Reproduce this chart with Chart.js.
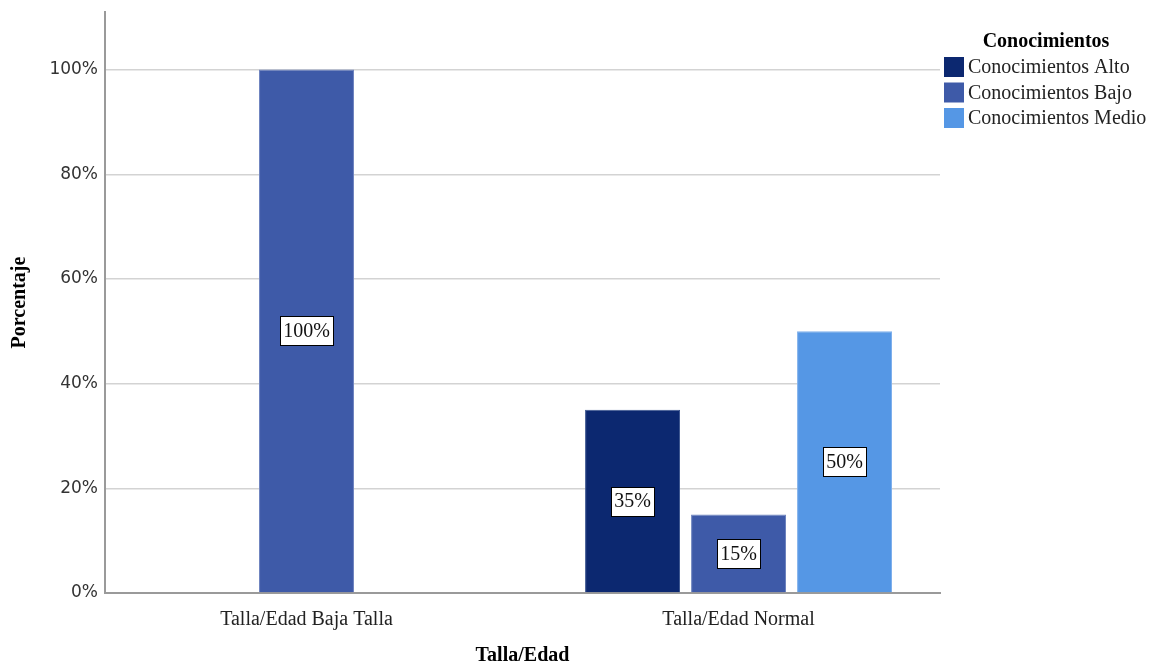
<!DOCTYPE html>
<html>
<head>
<meta charset="utf-8">
<script src="https://cdn.jsdelivr.net/npm/chart.js@4"></script>
<style>
  html, body { margin: 0; padding: 0; background: #fff; }
  #wrap { width: 1158px; height: 662px; }
</style>
</head>
<body>
<div id="wrap"><canvas id="chart"></canvas></div>
<script>
// datos
const categorias = ['Talla/Edad Baja Talla', 'Talla/Edad Normal'];
const alto = [null, 35];
const bajo = [100, 15];
const medio = [null, 50];
const yTicks = [0, 20, 40, 60, 80, 100];

const serif = '"Liberation Serif", "Times New Roman", serif';
const sans = '"DejaVu Sans", Tahoma, sans-serif';

// etiquetas blancas con borde dentro de cada barra
const etiquetas = {
  id: 'etiquetas',
  afterDatasetsDraw(chart) {
    const ctx = chart.ctx;
    ctx.save();
    ctx.font = '20px ' + serif;
    ctx.textAlign = 'center';
    ctx.textBaseline = 'middle';
    chart.data.datasets.forEach((ds, i) => {
      chart.getDatasetMeta(i).data.forEach((bar, j) => {
        const v = ds.data[j];
        if (v == null) return;
        const txt = v + '%';
        const cy = (bar.y + bar.base) / 2;
        const w = Math.round(ctx.measureText(txt).width + 6);
        const h = 29;
        const x0 = Math.round(bar.x - w / 2);
        const y0 = Math.round(cy - h / 2);
        ctx.fillStyle = '#fff';
        ctx.fillRect(x0, y0, w, h);
        ctx.strokeStyle = '#000';
        ctx.lineWidth = 1;
        ctx.strokeRect(x0 + 0.5, y0 + 0.5, w, h);
        ctx.fillStyle = '#111';
        ctx.fillText(txt, bar.x, cy + 1);
      });
    });
    ctx.restore();
  }
};

// leyenda a la derecha
const leyenda = {
  id: 'leyenda',
  afterDraw(chart) {
    const ctx = chart.ctx;
    ctx.save();
    ctx.fillStyle = '#000';
    ctx.font = 'bold 20px ' + serif;
    ctx.textAlign = 'center';
    ctx.textBaseline = 'middle';
    ctx.fillText('Conocimientos', 1046, 42);
    ctx.font = '20px ' + serif;
    ctx.textAlign = 'left';
    chart.data.datasets.forEach((ds, i) => {
      const y = 67 + i * 25.5;
      ctx.fillStyle = ds.backgroundColor;
      ctx.fillRect(944, y - 10, 20, 20);
      ctx.fillStyle = '#222';
      ctx.fillText(ds.label, 968, y + 1);
    });
    ctx.restore();
  }
};

new Chart(document.getElementById('chart'), {
  type: 'bar',
  data: {
    labels: categorias,
    datasets: [
      { label: 'Conocimientos Alto', data: alto, backgroundColor: '#0c2870', borderColor: '#3a548f', borderWidth: 1 },
      { label: 'Conocimientos Bajo', data: bajo, backgroundColor: '#3e5aa8', borderColor: '#6e84bf', borderWidth: 1 },
      { label: 'Conocimientos Medio', data: medio, backgroundColor: '#5597e5', borderColor: '#7fb0ec', borderWidth: 1 }
    ]
  },
  options: {
    responsive: true,
    maintainAspectRatio: false,
    animation: false,
    layout: { padding: { top: 12, right: 218, left: 0, bottom: 0 } },
    datasets: { bar: { categoryPercentage: 0.736, barPercentage: 0.896, skipNull: false } },
    plugins: { legend: { display: false }, tooltip: { enabled: false } },
    scales: {
      x: {
        afterBuildTicks(scale) {
          // centros de categoria como en la figura
          scale._startValue = -0.4664;
          scale._valueRange = 1.9327;
        },
        afterFit(scale) { scale.height = 69; },
        grid: { display: false },
        border: { display: true, color: '#9a9a9a', width: 2 },
        ticks: { color: '#222', font: { family: serif, size: 20 }, padding: 7 },
        title: { display: true, text: 'Talla/Edad', color: '#000', font: { family: serif, size: 20, weight: 'bold', lineHeight: 1 }, padding: { top: 0, bottom: -4 } }
      },
      y: {
        min: 0,
        max: 111,
        afterBuildTicks(scale) {
          scale.ticks = yTicks.map(v => ({ value: v }));
        },
        afterFit(scale) {
          scale.width = 105;
          scale.paddingTop = 0;
          scale.paddingBottom = 0;
        },
        grid: { color: '#d3d3d3', lineWidth: 1.5, drawTicks: false },
        border: { display: true, color: '#9a9a9a', width: 2 },
        ticks: { color: '#333', font: { family: sans, size: 17 }, padding: 7, callback: v => v + '%' },
        title: { display: true, text: 'Porcentaje', color: '#000', font: { family: serif, size: 20, weight: 'bold', lineHeight: 1 }, padding: { top: 10, bottom: 0 } }
      }
    }
  },
  plugins: [etiquetas, leyenda]
});
</script>
</body>
</html>
